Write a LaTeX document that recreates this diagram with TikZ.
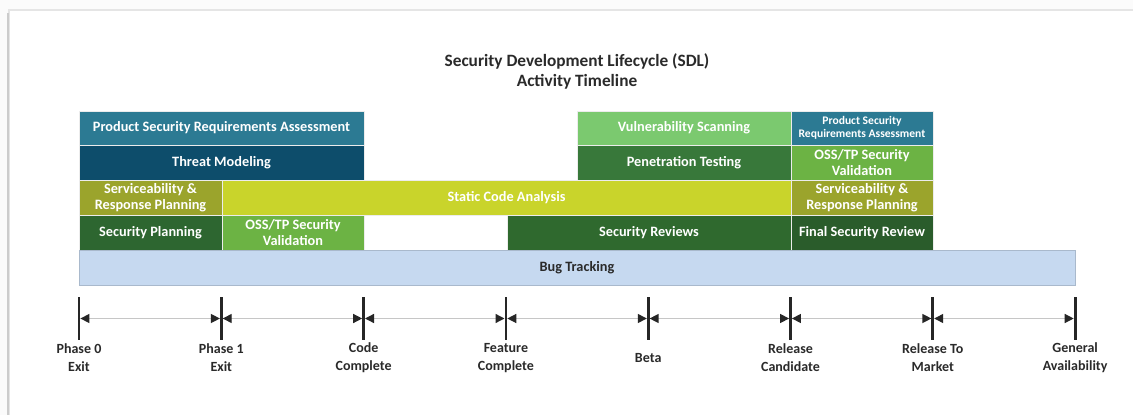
\documentclass[tikz,border=0pt]{standalone}
\usepackage{fontspec}
\setmainfont{Carlito}
\usetikzlibrary{arrows.meta}
\definecolor{cPSRA}{HTML}{2C7A93}
\definecolor{cThreat}{HTML}{0D4D6B}
\definecolor{cServ}{HTML}{9BA42C}
\definecolor{cStatic}{HTML}{C9D42B}
\definecolor{cSecPlan}{HTML}{2D6630}
\definecolor{cOSS}{HTML}{6CB344}
\definecolor{cVuln}{HTML}{7BC96F}
\definecolor{cPen}{HTML}{38783A}
\definecolor{cSecRev}{HTML}{2F692E}
\definecolor{cFinal}{HTML}{2A5C2B}
\definecolor{cBug}{HTML}{C6D9F0}
\definecolor{cBugBorder}{HTML}{A9B9CC}
\definecolor{cText}{HTML}{2A2A2A}
% #1 style, #2 name, #3 x1, #4 y1, #5 x2, #6 y2, #7 text
\newcommand{\mybox}[7]{%
  \node[#1, minimum width={(#5)-(#3)}, minimum height={(#6)-(#4)}, anchor=center]
    (#2) at ({((#3)+(#5))/2},{((#4)+(#6))/2}) {#7};}
\begin{document}
\begin{tikzpicture}[x=1pt,y=-1pt,
  blk/.style={rectangle, inner sep=0pt, outer sep=0pt, draw=white!85!gray, line width=0.4pt,
    text=white, align=center, font=\bfseries\fontsize{14.3}{16}\selectfont},
  blksmall/.style={blk, font=\bfseries\fontsize{11.6}{13}\selectfont},
  bugbox/.style={rectangle, inner sep=0pt, outer sep=0pt, fill=cBug, draw=cBugBorder, line width=0.8pt,
    text=cText, font=\bfseries\fontsize{14.3}{16}\selectfont},
  tick/.style={rectangle, fill=black!85, inner sep=0pt, outer sep=0pt, minimum width=2.8pt, minimum height=43pt},
  tlabel/.style={align=center, text=cText, inner sep=0pt, font=\bfseries\fontsize{14}{18}\selectfont},
  conn/.style={draw=gray!45, line width=1.3pt,
    {Triangle[color=black!85, length=9pt, width=9pt]}-{Triangle[color=black!85, length=9pt, width=9pt]}},
  title/.style={align=center, text=cText, inner sep=0pt, font=\bfseries\fontsize{17.3}{20}\selectfont}]
\useasboundingbox (0,0) rectangle (1133,415);
\fill[gray!3] (0,0) rectangle (1133,415);
\fill[white] (9,10) rectangle (1133,415);
\draw[gray!20, line width=1.2pt] (9,415) -- (9,10) -- (1133,10);
\draw[gray!40, line width=1.2pt] (8,13) -- (8,415);

\node[title] (ttl) at (577,71) {Security Development Lifecycle (SDL)\\Activity Timeline};

% row 1
\mybox{blk, fill=cPSRA}{psra}{79}{111}{364}{145}{Product Security Requirements Assessment}
\mybox{blk, fill=cVuln}{vuln}{577}{111}{791}{145}{Vulnerability Scanning}
\mybox{blksmall, fill=cPSRA}{psra2}{791}{111}{933}{145}{Product Security\\Requirements Assessment}
% row 2
\mybox{blk, fill=cThreat}{threat}{79}{145}{364}{180}{Threat Modeling}
\mybox{blk, fill=cPen}{pen}{577}{145}{791}{180}{Penetration Testing}
\mybox{blk, fill=cOSS}{oss2}{791}{145}{933}{180}{OSS/TP Security\\Validation}
% row 3
\mybox{blk, fill=cServ}{serv}{79}{180}{222}{215}{Serviceability \&\\Response Planning}
\mybox{blk, fill=cStatic}{static}{222}{180}{791}{215}{Static Code Analysis}
\mybox{blk, fill=cServ}{serv2}{791}{180}{933}{215}{Serviceability \&\\Response Planning}
% row 4
\mybox{blk, fill=cSecPlan}{secplan}{79}{215}{222}{250}{Security Planning}
\mybox{blk, fill=cOSS}{oss}{222}{215}{364}{250}{OSS/TP Security\\Validation}
\mybox{blk, fill=cSecRev}{secrev}{507}{215}{791}{250}{Security Reviews}
\mybox{blk, fill=cFinal}{final}{791}{215}{933}{250}{Final Security Review}
% row 5
\mybox{bugbox}{bug}{79}{250}{1075}{285}{Bug Tracking}

% timeline
\foreach \i/\x in {0/79,1/221.3,2/363.6,3/505.9,4/648.2,5/790.5,6/932.8,7/1075.1}
  \node[tick] (t\i) at (\x,318.5) {};
\foreach \a/\b in {0/1,1/2,2/3,3/4,4/5,5/6,6/7}
  \draw[conn] (t\a) -- (t\b);

\node[tlabel] (l0) at (79,358) {Phase 0\\Exit};
\node[tlabel] (l1) at (221.3,358) {Phase 1\\Exit};
\node[tlabel] (l2) at (363.6,358) {Code\\Complete};
\node[tlabel] (l3) at (505.9,358) {Feature\\Complete};
\node[tlabel] (l4) at (648.2,358) {Beta};
\node[tlabel] (l5) at (790.5,358) {Release\\Candidate};
\node[tlabel] (l6) at (932.8,358) {Release To\\Market};
\node[tlabel] (l7) at (1075.1,358) {General\\Availability};
\end{tikzpicture}
\end{document}
